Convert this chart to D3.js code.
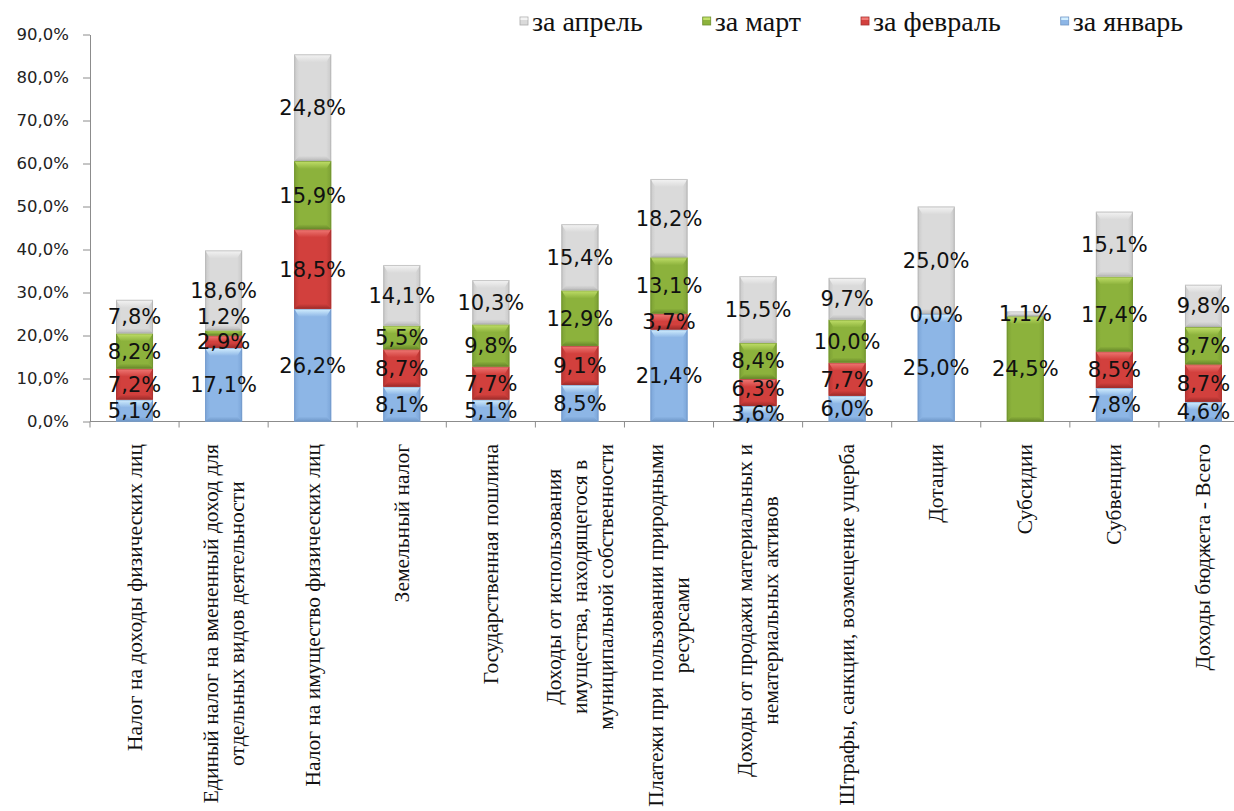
<!DOCTYPE html>
<html>
<head>
<meta charset="utf-8">
<script src="https://cdn.jsdelivr.net/npm/d3@7"></script>
<style>
  html, body { margin: 0; padding: 0; background: #ffffff; }
  svg { display: block; }
</style>
</head>
<body>
<svg id="chart" width="1234" height="811"></svg>
<script>
// Revenue categories (line breaks mark wrapped axis labels)
const categories = [
  "Налог на доходы физических лиц",
  "Единый налог на вмененный доход для\nотдельных видов деятельности",
  "Налог на имущество физических лиц",
  "Земельный налог",
  "Государственная пошлина",
  "Доходы от использования\nимущества, находящегося в\nмуниципальной собственности",
  "Платежи при пользовании природными\nресурсами",
  "Доходы от продажи материальных и\nнематериальных активов",
  "Штрафы, санкции, возмещение ущерба",
  "Дотации",
  "Субсидии",
  "Субвенции",
  "Доходы бюджета - Всего"
];

// Monthly shares, %
const january  = [5.1, 17.1, 26.2, 8.1, 5.1, 8.5, 21.4, 3.6, 6.0, 25.0, null, 7.8, 4.6];
const february = [7.2, 2.9, 18.5, 8.7, 7.7, 9.1, 3.7, 6.3, 7.7, 0.0, null, 8.5, 8.7];
const march    = [8.2, 1.2, 15.9, 5.5, 9.8, 12.9, 13.1, 8.4, 10.0, null, 24.5, 17.4, 8.7];
const april    = [7.8, 18.6, 24.8, 14.1, 10.3, 15.4, 18.2, 15.5, 9.7, 25.0, 1.1, 15.1, 9.8];

const seriesNames = ["за январь", "за февраль", "за март", "за апрель"];
const yTicks = [0, 10, 20, 30, 40, 50, 60, 70, 80, 90];

// Bevel palette per series: face, light top, dark bottom, side shade
const palette = [
  { face: "#8db6e6", light: "#d4f0ff", dark: "#6e97c8", side: "#7ba5d8", rim: "#7196c4" },
  { face: "#d2403d", light: "#f07a76", dark: "#9e2b29", side: "#b93532", rim: "#a33230" },
  { face: "#8cb23c", light: "#c2e06a", dark: "#67872a", side: "#7ca034", rim: "#6d8e2e" },
  { face: "#dadada", light: "#f4f4f4", dark: "#b8b8b8", side: "#c9c9c9", rim: "#ababab" }
];

const svg = d3.select("#chart");
const W = 1234, H = 811;
svg.append("rect").attr("width", W).attr("height", H).attr("fill", "#ffffff");

const plotLeft = 90, plotRight = 1248, plotTop = 34.5, plotBottom = 421.5;

const x = d3.scaleBand()
  .domain(d3.range(categories.length))
  .range([plotLeft, plotRight])
  .paddingInner(0.585)
  .paddingOuter(0.2925);

const y = d3.scaleLinear().domain([0, 90]).range([plotBottom, plotTop]);

const fmt = v => d3.format(".1f")(v).replace(".", ",") + "%";

// Gradients for the bevel pieces
const defs = svg.append("defs");
palette.forEach((p, i) => {
  const top = defs.append("linearGradient").attr("id", "top" + i)
    .attr("x1", 0).attr("y1", 0).attr("x2", 0).attr("y2", 1);
  top.append("stop").attr("offset", "0%").attr("stop-color", p.light);
  top.append("stop").attr("offset", "100%").attr("stop-color", p.face);

  const bot = defs.append("linearGradient").attr("id", "bot" + i)
    .attr("x1", 0).attr("y1", 0).attr("x2", 0).attr("y2", 1);
  bot.append("stop").attr("offset", "0%").attr("stop-color", p.face);
  bot.append("stop").attr("offset", "100%").attr("stop-color", p.dark);

  const lft = defs.append("linearGradient").attr("id", "lft" + i)
    .attr("x1", 0).attr("y1", 0).attr("x2", 1).attr("y2", 0);
  lft.append("stop").attr("offset", "0%").attr("stop-color", p.side);
  lft.append("stop").attr("offset", "100%").attr("stop-color", p.face);

  const rgt = defs.append("linearGradient").attr("id", "rgt" + i)
    .attr("x1", 0).attr("y1", 0).attr("x2", 1).attr("y2", 0);
  rgt.append("stop").attr("offset", "0%").attr("stop-color", p.face);
  rgt.append("stop").attr("offset", "100%").attr("stop-color", p.side);
});

// Stack the four months
const table = categories.map((c, i) => ({
  idx: i,
  s0: january[i], s1: february[i], s2: march[i], s3: april[i]
}));
const keys = ["s0", "s1", "s2", "s3"];
const stacked = d3.stack().keys(keys).value((d, k) => d[k] == null ? 0 : d[k])(table);

// Y axis
const yAxis = svg.append("g")
  .attr("transform", `translate(${plotLeft},0)`)
  .call(d3.axisLeft(y).tickValues(yTicks).tickFormat(fmt).tickSize(7).tickSizeOuter(0).tickPadding(14));
yAxis.select(".domain").attr("stroke", "#8c8c8c");
yAxis.selectAll(".tick line").attr("stroke", "#8c8c8c");
yAxis.selectAll(".tick text")
  .attr("font-family", "'DejaVu Sans', Verdana, sans-serif")
  .attr("font-size", 16.5)
  .attr("fill", "#222");

// X axis baseline and category boundary ticks
const xAxis = svg.append("g");
xAxis.append("line")
  .attr("x1", plotLeft).attr("x2", plotRight)
  .attr("y1", y(0)).attr("y2", y(0))
  .attr("stroke", "#8c8c8c");
const gap = (x.step() - x.bandwidth()) / 2;
xAxis.selectAll("line.tk")
  .data(d3.range(categories.length + 1))
  .join("line")
  .attr("class", "tk")
  .attr("x1", i => i < categories.length ? x(i) - gap : x(i - 1) + x.bandwidth() + gap)
  .attr("x2", i => i < categories.length ? x(i) - gap : x(i - 1) + x.bandwidth() + gap)
  .attr("y1", y(0)).attr("y2", y(0) + 6)
  .attr("stroke", "#8c8c8c");

// Bars with bevel effect
const bars = svg.append("g");
stacked.forEach((layer, si) => {
  const g = bars.append("g");
  layer.forEach((d, ci) => {
    const v = table[ci][keys[si]];
    if (v == null) return;
    const x0 = x(ci), w = x.bandwidth();
    const yTop = y(d[1]), yBot = y(d[0]);
    const h = yBot - yTop;
    if (h <= 0.01) return;
    const bt = Math.min(8, h / 2), bb = Math.min(5, h / 2), bs = Math.min(5, w / 4);
    const seg = g.append("g");
    seg.append("rect").attr("x", x0).attr("y", yTop).attr("width", w).attr("height", h)
      .attr("fill", palette[si].face);
    seg.append("polygon").attr("fill", `url(#lft${si})`)
      .attr("points", [[x0, yTop], [x0 + bs, yTop + bt], [x0 + bs, yBot - bb], [x0, yBot]].join(" "));
    seg.append("polygon").attr("fill", `url(#rgt${si})`)
      .attr("points", [[x0 + w - bs, yTop + bt], [x0 + w, yTop], [x0 + w, yBot], [x0 + w - bs, yBot - bb]].join(" "));
    seg.append("polygon").attr("fill", `url(#top${si})`)
      .attr("points", [[x0, yTop], [x0 + w, yTop], [x0 + w - bs, yTop + bt], [x0 + bs, yTop + bt]].join(" "));
    seg.append("polygon").attr("fill", `url(#bot${si})`)
      .attr("points", [[x0 + bs, yBot - bb], [x0 + w - bs, yBot - bb], [x0 + w, yBot], [x0, yBot]].join(" "));
    seg.append("rect").attr("x", x0 + 0.5).attr("y", yTop + 0.5).attr("width", w - 1).attr("height", Math.max(0, h - 1))
      .attr("fill", "none").attr("stroke", palette[si].rim).attr("stroke-opacity", 0.6).attr("stroke-width", 1);
  });
});

// Value labels, centred in each segment; crowded labels are nudged upward
const labels = svg.append("g")
  .attr("font-family", "'DejaVu Sans', Verdana, sans-serif")
  .attr("font-size", 21)
  .attr("fill", "#111")
  .attr("text-anchor", "middle");
const minGap = 25;
categories.forEach((c, ci) => {
  let prevY = Infinity;
  stacked.forEach((layer, si) => {
    const v = table[ci][keys[si]];
    if (v == null) return;
    const d = layer[ci];
    let ly = (y(d[0]) + y(d[1])) / 2;
    if (ly > prevY - minGap) ly = prevY - minGap;
    prevY = ly;
    labels.append("text")
      .attr("x", x(ci) + x.bandwidth() / 2)
      .attr("y", ly)
      .attr("dy", "0.36em")
      .text(fmt(v));
  });
});

// Rotated category labels, top-aligned under the axis, lines centred
const catG = svg.append("g")
  .attr("font-family", "'Liberation Serif', 'Times New Roman', serif")
  .attr("font-size", 21.5)
  .attr("fill", "#111");
const labelTop = 444, lineGap = 26;
categories.forEach((c, ci) => {
  const lines = c.split("\n");
  const cx = x(ci) + x.bandwidth() / 2;
  const grp = catG.append("g");
  const texts = lines.map(t => grp.append("text").attr("text-anchor", "middle").text(t));
  const maxLen = d3.max(texts, t => t.node().getComputedTextLength());
  const cy = labelTop + maxLen / 2;
  texts.forEach((t, li) => {
    const off = (li - (lines.length - 1) / 2) * lineGap;
    const lx = cx + off;
    t.attr("transform", `translate(${lx + 7},${cy}) rotate(-90)`);
  });
});

// Legend (reverse series order)
const legend = svg.append("g")
  .attr("font-family", "'Liberation Serif', 'Times New Roman', serif")
  .attr("font-size", 28)
  .attr("fill", "#111");
let lx = 520;
[3, 2, 1, 0].forEach(si => {
  const item = legend.append("g").attr("transform", `translate(${lx},0)`);
  item.append("rect").attr("x", 0).attr("y", 17).attr("width", 8).attr("height", 8)
    .attr("fill", palette[si].face).attr("stroke", palette[si].rim).attr("stroke-width", 0.8);
  item.append("rect").attr("x", 0.5).attr("y", 17.5).attr("width", 7).attr("height", 2.5)
    .attr("fill", palette[si].light);
  const t = item.append("text").attr("x", 12).attr("y", 31).text(seriesNames[si]);
  lx += 12 + t.node().getComputedTextLength() + 60;
});
</script>
</body>
</html>
